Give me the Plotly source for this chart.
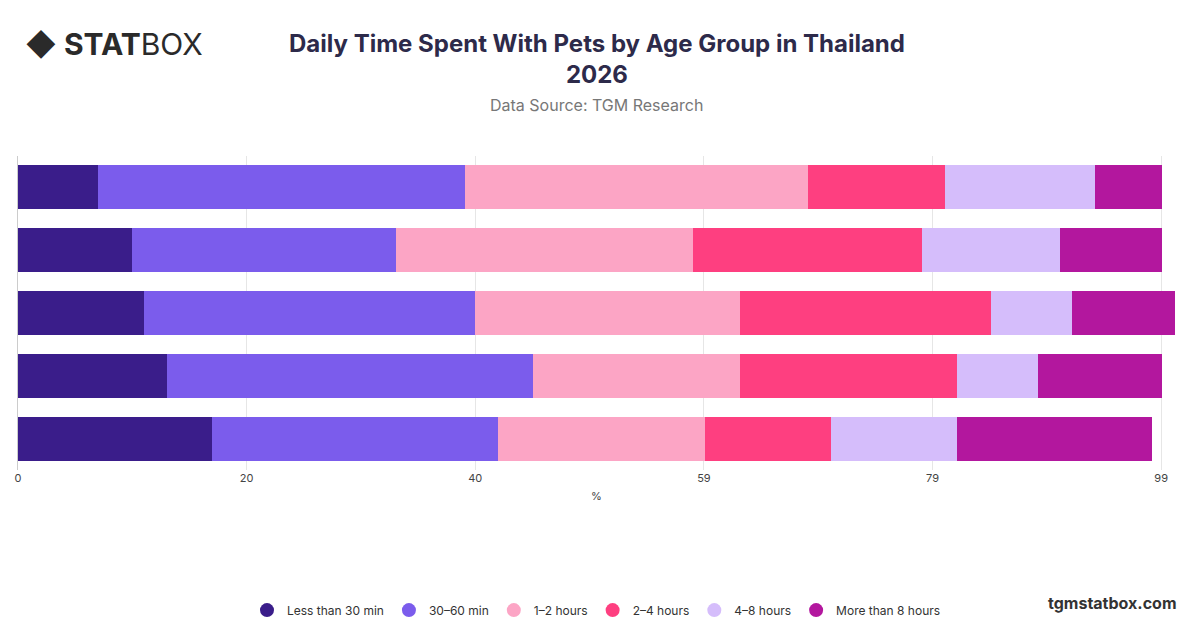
import plotly.graph_objects as go

age_groups = ["18–24", "25–34", "35–44", "45–54", "55+"]
series_names = ["Less than 30 min", "30–60 min", "1–2 hours", "2–4 hours", "4–8 hours", "More than 8 hours"]
colors = ["#3a1d8a", "#7b5cec", "#fca5c5", "#fe3f80", "#d5bdfb", "#b3179e"]
values = [
    [6.9, 9.9, 10.9, 12.9, 16.8],
    [31.8, 22.8, 28.7, 31.7, 24.8],
    [29.7, 25.8, 22.9, 17.9, 17.9],
    [11.9, 19.8, 21.8, 18.8, 10.9],
    [13.0, 11.9, 7.0, 7.0, 10.9],
    [5.8, 8.9, 8.9, 10.8, 16.9],
]
tick_vals = [0, 19.8, 39.6, 59.4, 79.2, 99]
tick_text = ["0", "20", "40", "59", "79", "99"]

fig = go.Figure()
for name, col, vals in zip(series_names, colors, values):
    fig.add_trace(go.Bar(y=age_groups, x=vals, name=name, orientation="h",
                         showlegend=False, marker=dict(color=col, line=dict(width=0))))
# round legend markers
for name, col in zip(series_names, colors):
    fig.add_trace(go.Scatter(x=[None], y=[None], mode="markers", name=name,
                             marker=dict(color=col, size=14, symbol="circle")))

fig.update_layout(
    barmode="stack", bargap=0.3,
    width=1200, height=628, plot_bgcolor="white", paper_bgcolor="white",
    font=dict(family="Inter, Roboto, sans-serif", color="#444"),
    margin=dict(l=7, r=33, t=148, b=166),
    xaxis=dict(range=[0, 100.2], tickvals=tick_vals, ticktext=tick_text,
               showgrid=True, gridcolor="#e6e6e6", zeroline=False,
               tickfont=dict(size=11, color="#444"),
               title=dict(text="%", font=dict(size=11), standoff=8)),
    yaxis=dict(autorange="reversed", showticklabels=False, showline=True,
               linecolor="#cccccc", ticks="", automargin=False),
    legend=dict(orientation="h", x=0.5, xanchor="center", y=-0.4, yanchor="top",
                traceorder="normal", font=dict(size=12, color="#333"), itemwidth=30),
    annotations=[
        dict(text="<b>Daily Time Spent With Pets by Age Group in Thailand<br>2026</b>",
             x=0.5, y=1.0, xref="paper", yref="paper", yanchor="middle", yshift=97,
             showarrow=False, font=dict(size=24, color="#2d2a4a")),
        dict(text="Data Source: TGM Research", x=0.5, y=1.0, xref="paper", yref="paper",
             yanchor="middle", yshift=51, showarrow=False, font=dict(size=16, color="#777")),
        dict(text="<b>◆ STAT</b>BOX", x=0.0, y=1.0, xref="paper", yref="paper",
             xanchor="left", yanchor="middle", yshift=112, xshift=5, showarrow=False,
             font=dict(size=30, color="#2a2a2a")),
        dict(text="<b>tgmstatbox.com</b>", x=1.0, y=0, xref="paper", yref="paper",
             xanchor="right", yshift=-145, xshift=4, showarrow=False,
             font=dict(size=16, color="#333")),
    ],
)
fig.write_html("out.html")
